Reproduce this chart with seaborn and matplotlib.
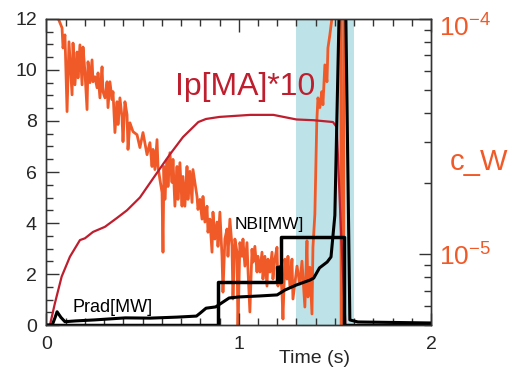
import matplotlib
matplotlib.use('Agg')
import matplotlib.pyplot as plt
import matplotlib.transforms as mtransforms
import seaborn as sns
from matplotlib.ticker import MultipleLocator, NullFormatter

sns.set_style('ticks')
plt.rcParams['font.family'] = ['Liberation Sans', 'DejaVu Sans']
plt.rcParams['mathtext.fontset'] = 'custom'
plt.rcParams['mathtext.rm'] = 'Liberation Sans'
plt.rcParams['mathtext.it'] = 'Liberation Sans:italic'
plt.rcParams['mathtext.bf'] = 'Liberation Sans:bold'

RED = '#be1e2d'
ORANGE = '#f05a28'
SHADE = '#bde3e8'

# Ip[MA]*10
ip_t = [0, 0.018, 0.044, 0.079, 0.122, 0.174, 0.20, 0.242, 0.304, 0.367, 0.419, 0.486,
        0.564, 0.64, 0.71, 0.79, 0.83, 0.90, 1.06, 1.18, 1.30, 1.39, 1.49, 1.51, 1.53, 1.555]
ip = [0, 0, 0.86, 1.9, 2.68, 3.33, 3.4, 3.65, 3.85, 4.2, 4.5, 5.0,
      5.85, 6.67, 7.37, 7.96, 8.08, 8.16, 8.24, 8.24, 8.06, 8.03, 7.96, 7.76, 4.0, 0.0]

# NBI[MW] (step)
nbi_t = [0, 0.89, 1.20, 1.207, 1.22, 1.55, 2.0]
nbi = [0, 1.67, 2.27, 1.67, 3.45, 0, 0]

# Prad[MW]
prad_t = [0, 0.03, 0.045, 0.055, 0.075, 0.096, 0.15, 0.25, 0.41, 0.54, 0.68, 0.78, 0.80, 0.83,
          0.88, 0.95, 1.0, 1.11, 1.2, 1.24, 1.30, 1.37, 1.39, 1.42, 1.46, 1.48, 1.50, 1.522,
          1.54, 1.557, 1.578, 1.62, 2.0]
prad = [0, 0, 0.3, 0.52, 0.3, 0.13, 0.16, 0.2, 0.28, 0.27, 0.31, 0.35, 0.47, 0.66,
        0.71, 1.06, 1.1, 1.14, 1.18, 1.37, 1.57, 1.76, 1.84, 2.24, 2.47, 2.67, 4.3, 12.2,
        14, 12.2, 0.2, 0.12, 0.08]

# c_W (units of 1e-5)
cw_t = [0.055, 0.060, 0.081, 0.086, 0.096, 0.107, 0.117, 0.133, 0.138, 0.148,
        0.159, 0.164, 0.174, 0.185, 0.190, 0.200, 0.211, 0.216, 0.226, 0.237,
        0.242, 0.252, 0.263, 0.268, 0.278, 0.289, 0.294, 0.304, 0.315, 0.320,
        0.330, 0.341, 0.346, 0.356, 0.367, 0.372, 0.382, 0.393, 0.398, 0.408,
        0.419, 0.424, 0.434, 0.450, 0.471, 0.486, 0.502, 0.523, 0.538, 0.549,
        0.554, 0.564, 0.575, 0.580, 0.590, 0.601, 0.606, 0.611, 0.616, 0.627,
        0.632, 0.642, 0.653, 0.658, 0.668, 0.679, 0.684, 0.694, 0.705, 0.710,
        0.720, 0.731, 0.736, 0.746, 0.757, 0.762, 0.772, 0.783, 0.788, 0.798,
        0.809, 0.814, 0.824, 0.835, 0.840, 0.850, 0.861, 0.866, 0.876, 0.887,
        0.892, 0.902, 0.913, 0.918, 0.928, 0.939, 0.944, 0.954, 0.965, 0.970,
        0.980, 0.991, 0.996, 1.006, 1.017, 1.022, 1.032, 1.043, 1.048, 1.058,
        1.069, 1.074, 1.084, 1.095, 1.100, 1.110, 1.121, 1.126, 1.136, 1.147,
        1.152, 1.162, 1.173, 1.178, 1.188, 1.199, 1.204, 1.214, 1.225, 1.230,
        1.240, 1.251, 1.256, 1.266, 1.277, 1.282, 1.303, 1.318, 1.329, 1.344,
        1.355, 1.360, 1.370, 1.381, 1.386, 1.396, 1.406, 1.412, 1.422, 1.432,
        1.438, 1.448, 1.459, 1.464, 1.474, 1.485, 1.500, 1.531, 1.533, 1.545,
        1.547]
cw = [13, 10.1, 9.16, 7.53, 8.56, 4.04, 8.0, 4.76, 7.9, 5.25,
      7.24, 5.62, 7.76, 5.25, 7.6, 5.96, 4.12, 6.58, 5.36, 6.7,
      5.41, 5.68, 5.1, 5.9, 4.62, 6.26, 4.91, 4.62, 5.41, 4.2,
      5.41, 4.54, 4.91, 3.29, 4.45, 3.56, 4.62, 3.81, 3.01, 4.45,
      3.92, 2.79, 3.62, 3.32, 3.22, 2.84, 3.29, 2.65, 2.98, 2.36,
      2.79, 2.29, 3.07, 2.36, 2.08, 1.83, 1.02, 2.36, 1.71, 2.53,
      1.94, 2.70, 2.02, 2.53, 1.60, 2.36, 1.71, 2.45, 1.60, 2.14,
      1.60, 2.36, 1.71, 2.25, 1.66, 2.29, 2.02, 1.76, 1.55, 1.71,
      1.41, 1.76, 1.37, 1.60, 1.24, 1.41, 1.02, 1.51, 1.16, 1.37,
      1.08, 1.51, 0.98, 0.69, 1.16, 1.28, 0.98, 1.41, 1.08, 0.645,
      1.16, 1.02, 0.48, 1.12, 0.98, 1.16, 0.89, 1.12, 0.863, 0.568,
      1.05, 0.925, 1.08, 0.84, 0.98, 0.84, 1.02, 0.784, 0.98, 0.732,
      0.953, 0.84, 1.02, 0.784, 0.953, 1.07, 0.732, 0.89, 0.69, 0.53,
      0.953, 0.784, 0.98, 0.732, 0.953, 0.645, 0.89, 0.746, 0.934, 0.596,
      1.14, 0.658, 0.88, 0.557, 1.07, 1.48, 3.66, 4.62, 4.2, 4.91,
      4.32, 6.38, 5.41, 7.53, 8.56, 10.1, 14, 14, 0.3, 0.3,
      14]
cw = [v * 1e-5 for v in cw]

fig = plt.figure(figsize=(5.2, 3.76), dpi=100)
ax = fig.add_axes([0.0894, 0.1356, 0.7394, 0.8139])
ax2 = ax.twinx()
ax.set_zorder(ax2.get_zorder() + 1)
ax.patch.set_visible(False)

# background axis: shade + c_W on log scale
ax2.axvspan(1.30, 1.60, color=SHADE, lw=0)
ax2.set_yscale('log')
sns.lineplot(x=cw_t, y=cw, ax=ax2, color=ORANGE, lw=2.0, sort=False, estimator=None)
ax2.set_ylim(5e-6, 1e-4)

# front axis
sns.lineplot(x=ip_t, y=ip, ax=ax, color=RED, lw=1.6, sort=False, estimator=None)
sns.lineplot(x=prad_t, y=prad, ax=ax, color='black', lw=2.2, sort=False, estimator=None)
sns.lineplot(x=nbi_t, y=nbi, ax=ax, color='black', lw=2.5, sort=False, estimator=None,
             drawstyle='steps-post')

ax.set_xlim(0, 2)
ax.set_ylim(0, 12)
ax.xaxis.set_major_locator(MultipleLocator(1))
ax.xaxis.set_minor_locator(MultipleLocator(0.1))
ax.yaxis.set_major_locator(MultipleLocator(2))
ax.yaxis.set_minor_locator(MultipleLocator(0.5))
ax.tick_params(which='major', direction='in', length=9, width=1, labelsize=14,
               top=True, right=False, color='#333333')
ax.tick_params(which='minor', direction='in', length=5, width=1,
               top=True, right=False, color='#333333')
ax.tick_params(axis='y', pad=7)
ax.tick_params(axis='x', pad=8)
ax.set_ylabel('')
ax.set_xlabel('Time (s)', fontsize=14)
ax.xaxis.set_label_coords(0.698, -0.082)

ax2.yaxis.set_minor_formatter(NullFormatter())
ax2.tick_params(axis='y', which='major', direction='in', length=9, width=1,
                labelsize=19, labelcolor=ORANGE, pad=6, color='#333333')
ax2.tick_params(axis='y', which='minor', direction='in', length=5, width=1, color='#333333')
ax2.set_ylabel('')

for a in (ax, ax2):
    for s in a.spines.values():
        s.set_color('#333333')
        s.set_linewidth(1)

ax.text(0.668, 9.02, 'Ip[MA]*10', color=RED, fontsize=23, va='baseline')
ax.text(0.98, 3.76, 'NBI[MW]', color='black', fontsize=12.5, va='baseline')
ax.text(0.133, 0.51, 'Prad[MW]', color='black', fontsize=13, va='baseline')
fig.text(0.865, 0.548, 'c_W', color=ORANGE, fontsize=21, va='baseline')

# nudge the top 10^-4 label down a little, as in the original
fig.canvas.draw()
for tick in ax2.yaxis.get_major_ticks():
    if abs(tick.get_loc() - 1e-4) < 1e-10:
        lab = tick.label2
        lab.set_transform(lab.get_transform() +
                          mtransforms.ScaledTranslation(0, -0.07, fig.dpi_scale_trans))

fig.savefig('out.png', dpi=100)
